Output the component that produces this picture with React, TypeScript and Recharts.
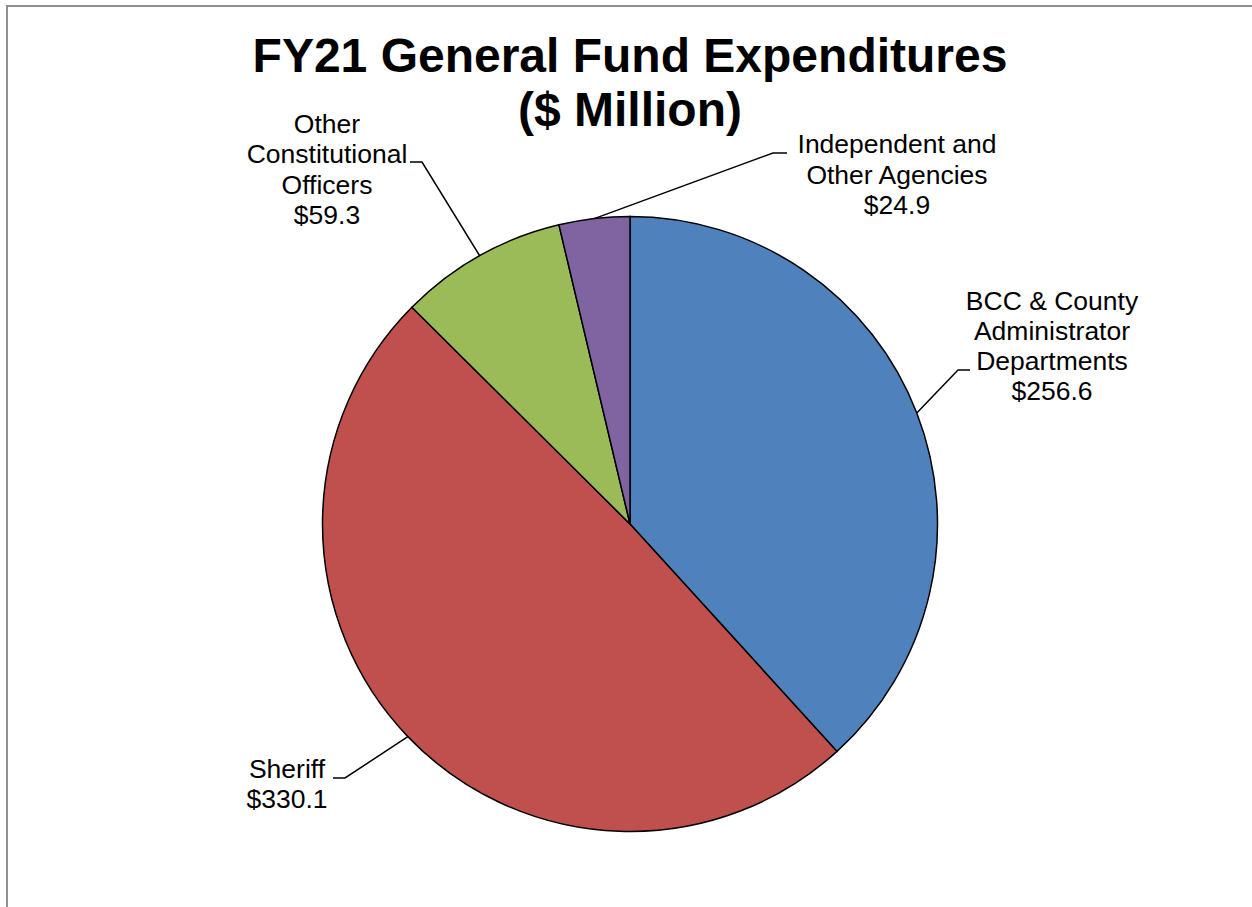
import React from 'react';
import { PieChart, Pie, Cell } from 'recharts';

const categories = [
  'BCC & County Administrator Departments',
  'Sheriff',
  'Other Constitutional Officers',
  'Independent and Other Agencies',
];
const values = [256.6, 330.1, 59.3, 24.9];
const labelLines = [
  ['BCC & County', 'Administrator', 'Departments', '$256.6'],
  ['Sheriff', '$330.1'],
  ['Other', 'Constitutional', 'Officers', '$59.3'],
  ['Independent and', 'Other Agencies', '$24.9'],
];
const colors = ['#4F81BD', '#C0504D', '#9BBB59', '#8064A2'];

// label layout relative to pie centre: elbow, horizontal end, text centre x, first baseline y
const labelLayout = [
  { ex: 328, ey: -154, hx: 340, tx: 422, ty: -214.5 },
  { ex: -285, ey: 254, hx: -297, tx: -343, ty: 254 },
  { ex: -208, ey: -362, hx: -220, tx: -303, ty: -391 },
  { ex: 143, ey: -371, hx: 157, tx: 267, ty: -370.7 },
];

const data = categories.map((name, i) => ({ name, value: values[i] }));
const RAD = Math.PI / 180;
const FONT = '"Liberation Sans", Arial, sans-serif';

const renderLabel = (props: any) => {
  const { cx, cy, midAngle, outerRadius, index } = props;
  const px = cx + outerRadius * Math.cos(-midAngle * RAD);
  const py = cy + outerRadius * Math.sin(-midAngle * RAD);
  const L = labelLayout[index];
  const lines = labelLines[index];
  return (
    <g key={`lbl-${index}`}>
      <polyline
        points={`${px},${py} ${cx + L.ex},${cy + L.ey} ${cx + L.hx},${cy + L.ey}`}
        fill="none"
        stroke="#000"
        strokeWidth={1.5}
      />
      <text textAnchor="middle" fontFamily={FONT} fontSize={26.5} fill="#000">
        {lines.map((t, j) => (
          <tspan key={j} x={cx + L.tx} y={cy + L.ty + j * 30.3}>
            {t}
          </tspan>
        ))}
      </text>
    </g>
  );
};

export default function App() {
  return (
    <div style={{ position: 'absolute', left: 0, top: 0, width: 1252, height: 907, overflow: 'hidden', background: '#fff' }}>
      <div
        style={{
          position: 'absolute',
          left: 6,
          top: 5,
          width: 1300,
          height: 1000,
          border: '2px solid #8f8f8f',
          boxSizing: 'border-box',
        }}
      />
      <div
        style={{
          position: 'absolute',
          left: 0,
          top: 28.5,
          width: 1260,
          textAlign: 'center',
          fontFamily: FONT,
          fontWeight: 'bold',
          fontSize: 48,
          lineHeight: '54px',
          color: '#000',
        }}
      >
        FY21 General Fund Expenditures
        <br />
        ($ Million)
      </div>
      <div style={{ position: 'absolute', left: 0, top: 0 }}>
        <PieChart width={1252} height={907} margin={{ top: 0, right: 0, bottom: 0, left: 0 }}>
          <Pie
            data={data}
            dataKey="value"
            nameKey="name"
            cx={630}
            cy={524}
            outerRadius={307.5}
            startAngle={90}
            endAngle={-270}
            stroke="#000"
            strokeWidth={1.5}
            label={renderLabel}
            labelLine={false}
            isAnimationActive={false}
          >
            {data.map((d, i) => (
              <Cell key={d.name} fill={colors[i]} />
            ))}
          </Pie>
        </PieChart>
      </div>
    </div>
  );
}
